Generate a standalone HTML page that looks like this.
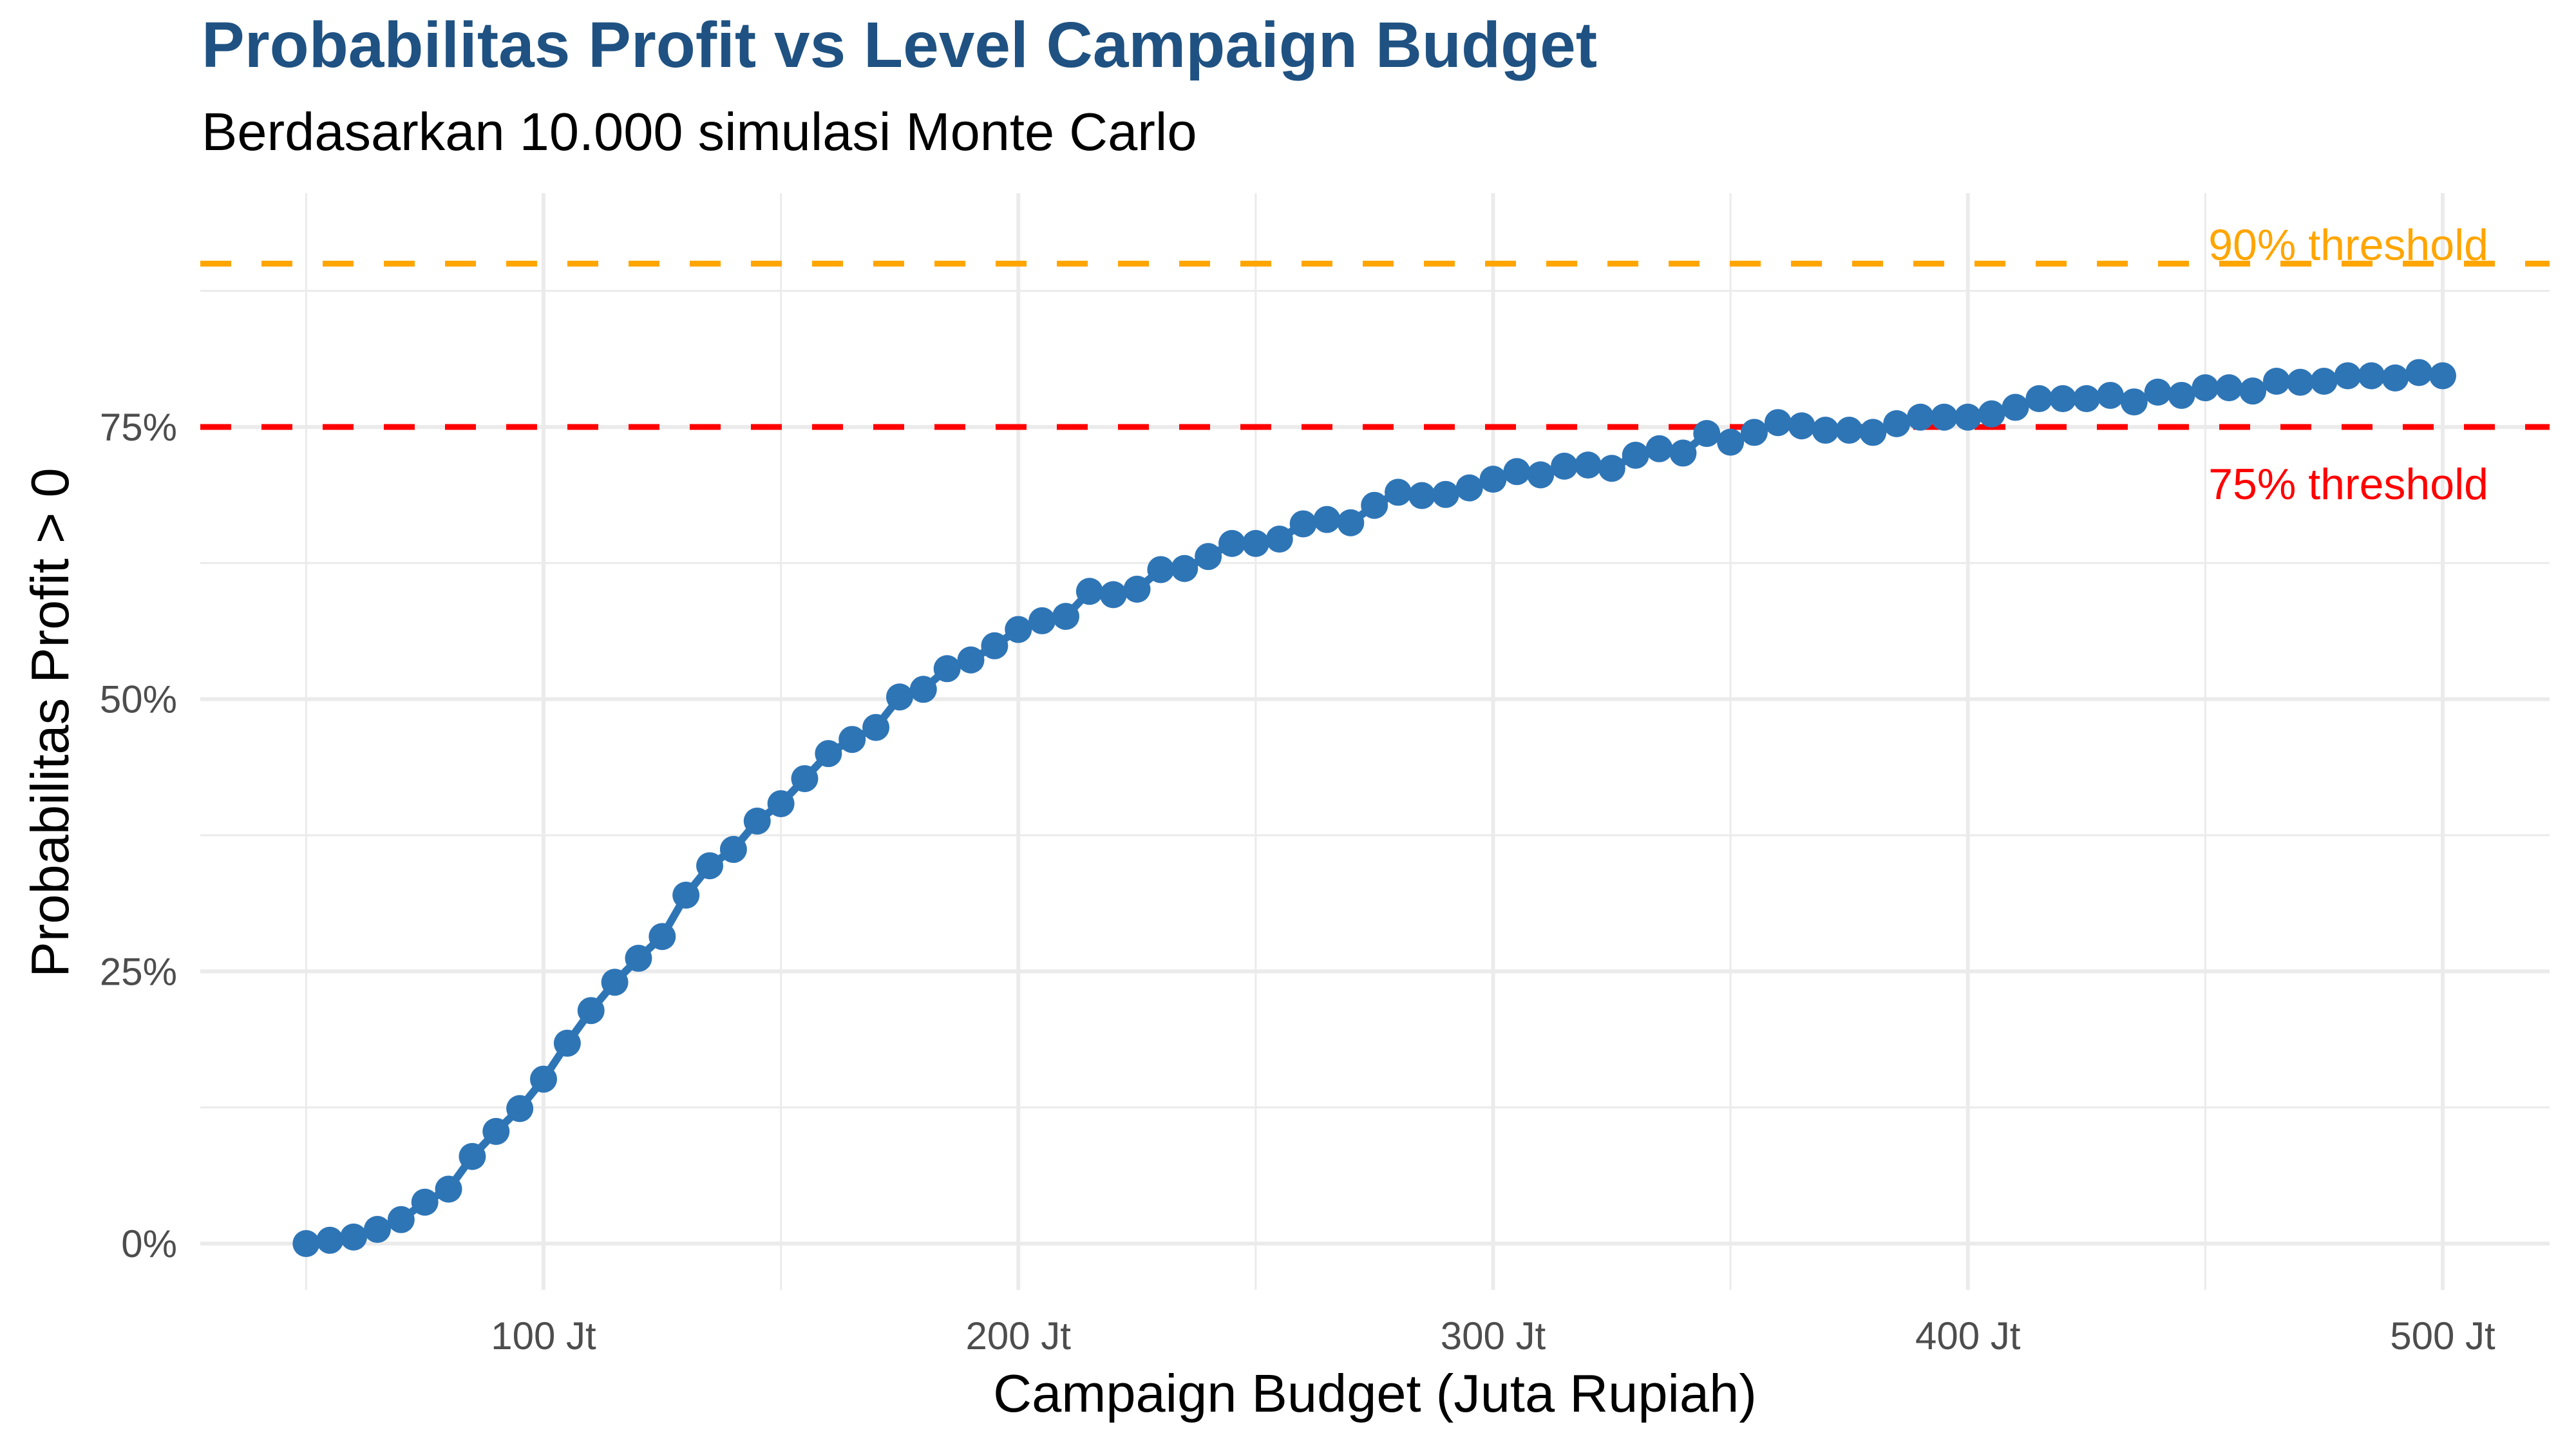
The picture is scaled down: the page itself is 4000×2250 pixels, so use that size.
<!DOCTYPE html>
<html><head><meta charset="utf-8"><style>
html,body{margin:0;padding:0;background:#fff;}
svg{display:block;font-family:"Liberation Sans",Arial,sans-serif;}
</style></head><body>
<svg id="chart" width="4000" height="2250" viewBox="0 0 4000 2250" xmlns="http://www.w3.org/2000/svg">
<rect width="4000" height="2250" fill="#fff"/>
<text x="313" y="104" font-size="100" font-weight="bold" fill="#1f5282">Probabilitas Profit vs Level Campaign Budget</text>
<text x="313" y="233" font-size="83" fill="#000">Berdasarkan 10.000 simulasi Monte Carlo</text>
<g id="grid"></g>
<g id="marks"></g>
<g id="axes"></g>
<text x="2135" y="2192" font-size="83" text-anchor="middle" fill="#000">Campaign Budget (Juta Rupiah)</text>
<text transform="translate(106,1122) rotate(-90)" font-size="83" text-anchor="middle" fill="#000">Probabilitas Profit &gt; 0</text>
</svg>
<script>
const budgets = [50,55,60,65,70,75,80,85,90,95,100,105,110,115,120,125,130,135,140,145,150,155,160,165,170,175,180,185,190,195,200,205,210,215,220,225,230,235,240,245,250,255,260,265,270,275,280,285,290,295,300,305,310,315,320,325,330,335,340,345,350,355,360,365,370,375,380,385,390,395,400,405,410,415,420,425,430,435,440,445,450,455,460,465,470,475,480,485,490,495,500];
const probs = [0,0.3,0.6,1.3,2.2,3.8,5,8,10.3,12.4,15.1,18.4,21.4,24,26.2,28.2,32,34.7,36.2,38.8,40.4,42.7,45,46.3,47.4,50.2,50.9,52.8,53.6,54.9,56.4,57.2,57.6,59.9,59.6,60.1,61.9,62,63.1,64.3,64.3,64.7,66.1,66.5,66.2,67.8,69,68.7,68.8,69.4,70.2,70.9,70.6,71.4,71.5,71.2,72.4,73,72.6,74.4,73.6,74.5,75.4,75.1,74.7,74.7,74.5,75.3,75.9,75.9,75.9,76.2,76.8,77.6,77.6,77.6,77.9,77.3,78.2,77.9,78.6,78.6,78.3,79.2,79.1,79.2,79.7,79.7,79.5,80,79.7];
const xTicks = [100,200,300,400,500];
const xTickLabels = ["100 Jt","200 Jt","300 Jt","400 Jt","500 Jt"];
const xMinor = [50,150,250,350,450];
const yTicks = [0,25,50,75];
const yTickLabels = ["0%","25%","50%","75%"];
const yMinor = [12.5,37.5,62.5,87.5];
const thresholds = [90,75];
const thresholdLabels = ["90% threshold","75% threshold"];

const L=311,R=3959,T=300,B=2003;
const xs = v => 844 + (v-100)*7.3725;
const ys = p => 1931 - p*16.907;
const NS="http://www.w3.org/2000/svg";
function mk(tag, parent, attrs){const e=document.createElementNS(NS,tag);for(const k in attrs)e.setAttribute(k,attrs[k]);parent.appendChild(e);return e;}
const grid=document.getElementById('grid'), marks=document.getElementById('marks'), axes=document.getElementById('axes');

yMinor.forEach(v=>{const e=mk('line',grid,{x1:L,x2:R,y1:ys(v),y2:ys(v),stroke:'#ebebeb','stroke-width':3});

});
xMinor.forEach(v=>{const e=mk('line',grid,{x1:xs(v),x2:xs(v),y1:T,y2:B,stroke:'#ebebeb','stroke-width':3});

});
yTicks.forEach((v,i)=>{const e=mk('line',grid,{x1:L,x2:R,y1:ys(v),y2:ys(v),stroke:'#ebebeb','stroke-width':6});


const t=mk('text',axes,{x:275,y:ys(v)+21,'font-size':60,'text-anchor':'end',fill:'#4d4d4d'});t.textContent=yTickLabels[i];

});
xTicks.forEach((v,i)=>{const e=mk('line',grid,{x1:xs(v),x2:xs(v),y1:T,y2:B,stroke:'#ebebeb','stroke-width':6});


const t=mk('text',axes,{x:xs(v),y:2095,'font-size':60,'text-anchor':'middle',fill:'#4d4d4d'});t.textContent=xTickLabels[i];

});

const colors=['#ffa500','#ff0000'];
thresholds.forEach((v,i)=>{const e=mk('line',marks,{x1:L,x2:R,y1:ys(v),y2:ys(v),stroke:colors[i],'stroke-width':9,'stroke-dasharray':'48 47'});

});

const pts=budgets.map((b,i)=>xs(b).toFixed(1)+','+ys(probs[i]).toFixed(1)).join(' ');
const pl=mk('polyline',marks,{points:pts,fill:'none',stroke:'#2e75b6','stroke-width':12,'stroke-linejoin':'round'});


budgets.forEach((b,i)=>{const c=mk('circle',marks,{cx:xs(b),cy:ys(probs[i]),r:21,fill:'#2e75b6'});

});

const offs=[-6,112];
thresholds.forEach((v,i)=>{const t=mk('text',marks,{x:3864,y:ys(v)+offs[i],'font-size':68,'text-anchor':'end',fill:colors[i]});t.textContent=thresholdLabels[i];

});
</script>
</body></html>
